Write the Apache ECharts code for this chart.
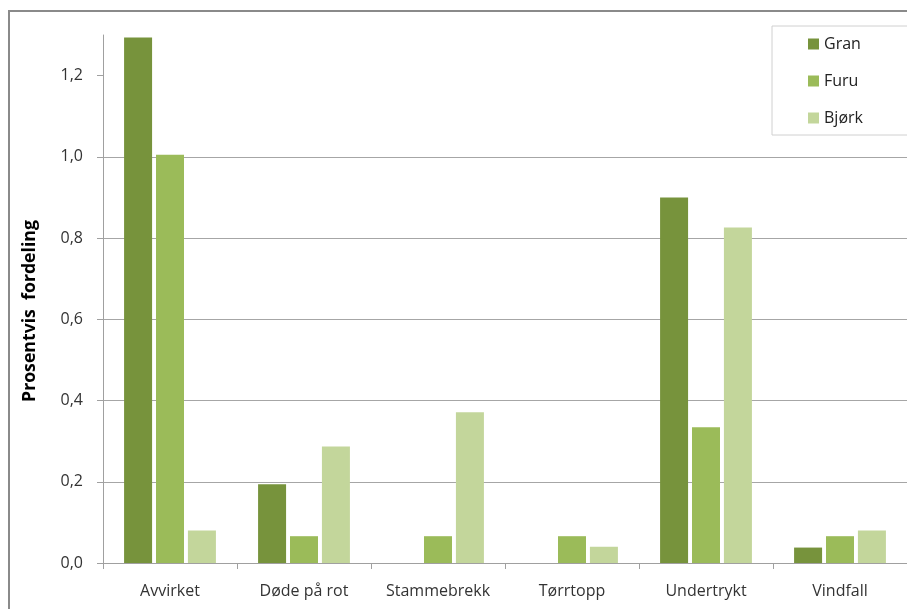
<!DOCTYPE html>
<html>
<head>
<meta charset="utf-8">
<script src="https://cdn.jsdelivr.net/npm/echarts@6/dist/echarts.min.js"></script>
<style>
  html, body { margin: 0; padding: 0; background: #fff; }
  #chart { width: 907px; height: 609px; }
</style>
</head>
<body>
<div id="chart"></div>
<script>
// kategorier og verdier
var categories = ['Avvirket', 'Døde på rot', 'Stammebrekk', 'Tørrtopp', 'Undertrykt', 'Vindfall'];
var gran = [1.294, 0.194, 0, 0, 0.900, 0.038];
var furu = [1.005, 0.066, 0.066, 0.066, 0.334, 0.066];
var bjork = [0.080, 0.287, 0.371, 0.040, 0.826, 0.080];
var yTicks = [0, 0.2, 0.4, 0.6, 0.8, 1.0, 1.2];

var font = '"Open Sans", "Noto Sans", sans-serif';

var chart = echarts.init(document.getElementById('chart'));

function fmt(v) {
  return v.toFixed(1).replace('.', ',');
}

var option = {
  animation: false,
  backgroundColor: '#fff',
  textStyle: { fontFamily: font },
  graphic: [{
    type: 'rect',
    z: -1,
    shape: { x: 9, y: 11, width: 1000, height: 1000 },
    style: { fill: 'none', stroke: '#8a8a8a', lineWidth: 2 }
  }],
  grid: { left: 103, right: -2, top: 35, bottom: 46, containLabel: false },
  legend: {
    orient: 'vertical',
    left: 772,
    top: 26,
    padding: [10, 60, 9, 36],
    itemWidth: 11,
    itemHeight: 11,
    itemGap: 21,
    icon: 'rect',
    backgroundColor: '#fff',
    borderColor: '#d0d0d0',
    borderWidth: 1,
    textStyle: { fontSize: 16, color: '#222', fontFamily: font },
    data: ['Gran', 'Furu', 'Bjørk']
  },
  xAxis: {
    type: 'category',
    data: categories,
    axisLine: { lineStyle: { color: '#a0a0a0', width: 1 } },
    axisTick: { show: true, interval: 0, length: 6, lineStyle: { color: '#a0a0a0' } },
    axisLabel: { interval: 0, fontSize: 16, color: '#333', margin: 20, fontFamily: font }
  },
  yAxis: {
    type: 'value',
    min: 0,
    max: 1.3,
    interval: 0.2,
    name: 'Prosentvis  fordeling',
    nameLocation: 'middle',
    nameGap: 64,
    nameTextStyle: { fontSize: 17.7, fontWeight: 'bold', color: '#000', fontFamily: font, padding: [0, 24, 0, 0] },
    axisLine: { show: true, lineStyle: { color: '#a0a0a0', width: 1 } },
    axisTick: { show: true, length: 6, lineStyle: { color: '#a0a0a0' }, customValues: yTicks },
    axisLabel: { fontSize: 16, color: '#333', margin: 20, fontFamily: font, customValues: yTicks,
      formatter: function (v) { return fmt(v); } },
    splitLine: { show: true, showMaxLine: false, lineStyle: { color: '#a6a6a6', width: 1 } }
  },
  series: [
    { name: 'Gran', type: 'bar', data: gran, barWidth: 28, barGap: '14%', itemStyle: { color: '#77933C' } },
    { name: 'Furu', type: 'bar', data: furu, barWidth: 28, barGap: '14%', itemStyle: { color: '#9BBB59' } },
    { name: 'Bjørk', type: 'bar', data: bjork, barWidth: 28, barGap: '14%', itemStyle: { color: '#C3D69B' } }
  ]
};

chart.setOption(option);
</script>
</body>
</html>
